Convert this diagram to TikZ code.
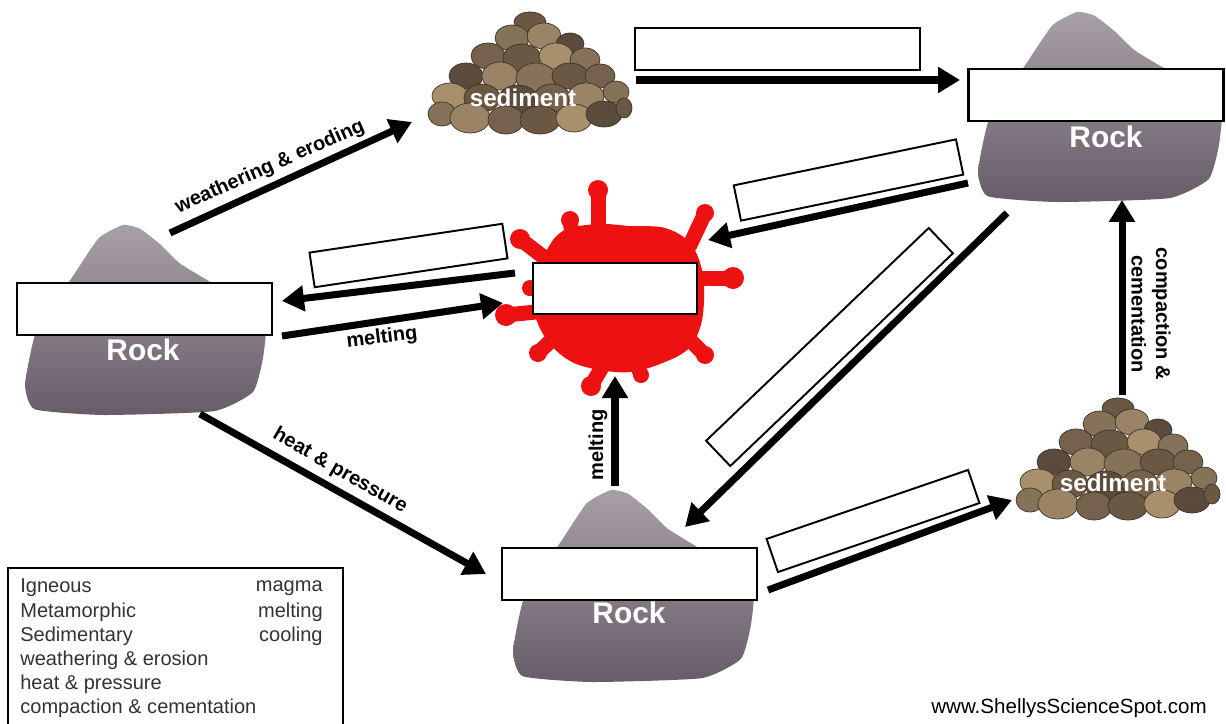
\documentclass[tikz,border=0pt]{standalone}
\usepackage{fontspec}
\setmainfont{Liberation Sans}
\usetikzlibrary{arrows.meta}
\definecolor{rockL}{HTML}{A8A0A7}
\definecolor{rockM}{HTML}{898089}
\definecolor{rockD}{HTML}{675C68}
\definecolor{magred}{HTML}{EE1111}
\definecolor{pA}{HTML}{6B5843}
\definecolor{pB}{HTML}{857258}
\definecolor{pC}{HTML}{5A4B3C}
\definecolor{pD}{HTML}{9A8466}
\definecolor{pE}{HTML}{76624C}
\definecolor{pF}{HTML}{A8906D}
\definecolor{pOut}{HTML}{3E3328}
\definecolor{legcol}{HTML}{333333}

\newcommand\rockshape[4]{%
  \begin{scope}[shift={(#1,#2)}, xscale=#3, yscale=#4]
    \shade[top color=rockL, middle color=rockM, bottom color=rockD]
      plot[smooth cycle, tension=0.3] coordinates {
        (0.40,0) (0.47,0.02) (0.55,0.10) (0.63,0.20) (0.73,0.28) (0.86,0.38)
        (0.98,0.52) (0.97,0.71) (0.93,0.88) (0.77,0.98) (0.32,1.0) (0.04,0.97)
        (0.0,0.84) (0.04,0.58) (0.11,0.42) (0.19,0.28) (0.30,0.07)};
  \end{scope}}

\newcommand\pebblepile[2]{%
  \begin{scope}[shift={(#1,#2)}]
    \foreach \ppx/\ppy/\prx/\pry/\pcol in {
      100/8/16/10/pA,
      82/24/17/13/pB, 114/22/17/13/pD, 140/30/14/11/pC,
      58/42/17/13/pE, 92/44/19/14/pA, 126/42/17/13/pF, 155/46/15/12/pB,
      36/62/17/13/pC, 70/62/18/14/pD, 106/64/20/15/pB, 140/62/18/13/pA, 170/62/15/12/pE,
      20/82/18/13/pF, 52/84/18/14/pA, 88/86/20/15/pC, 122/84/18/14/pE, 156/82/18/13/pD, 186/78/13/11/pB,
      12/100/14/12/pB, 40/104/20/15/pD, 76/106/18/14/pE, 110/106/20/14/pA, 144/104/18/14/pF, 174/100/18/13/pC, 194/94/8/10/pA}
      {\filldraw[fill=\pcol, draw=pOut, line width=0.4pt] (\ppx,\ppy) ellipse [x radius=\prx, y radius=\pry];}
  \end{scope}}

\begin{document}
\begin{tikzpicture}[x=0.02cm,y=-0.02cm,
  blank/.style={draw=black, fill=white, line width=1.6pt, inner sep=0pt},
  tblank/.style={draw=black, fill=white, line width=1.1pt, inner sep=0pt},
  arr/.style={line width=4pt, -{Triangle[length=0.44cm,width=0.5cm]}},
  lbl/.style={font=\bfseries\fontsize{11.4}{14}\selectfont, inner sep=0pt},
  rocktxt/.style={text=white, font=\bfseries\fontsize{17}{20}\selectfont, inner sep=0pt},
  sedtxt/.style={text=white, font=\bfseries\fontsize{13.8}{16}\selectfont, inner sep=0pt},
  legtxt/.style={text=legcol, font=\fontsize{11.4}{13.7}\selectfont, inner sep=0pt},
  tendril/.style={draw=magred, line width=0.3cm, line cap=round}
]
\useasboundingbox (0,0) rectangle (1226,723);
\fill[white] (0,0) rectangle (1226,723);

% rocks and sediment piles
\rockshape{25}{225}{245}{190}
\rockshape{978}{12}{248}{190}
\rockshape{513}{490}{245}{192}
\pebblepile{430}{14}
\pebblepile{1018}{400}

% magma splat
\fill[magred] plot[smooth cycle, tension=0.6] coordinates {
  (548,248) (565,230) (598,224) (630,226) (665,228) (690,243) (702,270)
  (704,300) (700,328) (687,350) (660,364) (630,372) (600,370) (572,362)
  (550,344) (536,318) (533,285)};
\foreach \ax/\ay/\bx/\by/\br in {
  598/230/598/190/10, 550/262/520/239/10, 572/235/570/220/9, 690/245/705/213/9,
  697/278/733/278/11, 536/312/506/315/11, 540/288/530/288/8, 557/335/538/353/9,
  605/362/591/386/10, 637/365/641/375/8, 685/335/705/355/9}
  {\draw[tendril] (\ax,\ay) -- (\bx,\by);
   \fill[magred] (\bx,\by) circle [radius=\br];}

% blank boxes
\node[blank, minimum width=5.1cm, minimum height=1.04cm] (bL) at (144.5,309) {};
\node[blank, minimum width=5.7cm, minimum height=0.84cm] (bTop) at (777.5,49) {};
\node[blank, minimum width=5.1cm, minimum height=1.04cm] (bTR) at (1096,95) {};
\node[blank, minimum width=3.28cm, minimum height=1.02cm] (bMag) at (615,288.5) {};
\node[blank, minimum width=5.1cm, minimum height=1.04cm] (bB) at (629.5,574) {};
\node[tblank, minimum width=3.9cm, minimum height=0.7cm, rotate=8.5] (bML) at (408.5,255.5) {};
\node[tblank, minimum width=4.54cm, minimum height=0.72cm, rotate=11.7] (bTRm) at (848.5,180) {};
\node[tblank, minimum width=6.16cm, minimum height=0.7cm, rotate=43.7] (bDiag) at (829.5,347) {};
\node[tblank, minimum width=4.26cm, minimum height=0.7cm, rotate=18.9] (bBR) at (873,521) {};

% rock / sediment labels
\node[rocktxt] (tL) at (143,350) {Rock};
\node[rocktxt] (tTR) at (1106,137) {Rock};
\node[rocktxt] (tB) at (629,613) {Rock};
\node[sedtxt] (sTop) at (523,98) {sediment};
\node[sedtxt] (sBR) at (1113,483) {sediment};

% arrow end points
\coordinate (w1) at (170,233);  \coordinate (w2) at (412,122);
\coordinate (mL1) at (515,273); \coordinate (mL2) at (282,301);
\coordinate (mR1) at (282,336); \coordinate (mR2) at (503,303);
\coordinate (h1) at (200,414);  \coordinate (h2) at (486,574);
\coordinate (u1) at (615,486);  \coordinate (u2) at (615,376);
\coordinate (t1) at (636,80);   \coordinate (t2) at (960,80);
\coordinate (r1) at (968,183);  \coordinate (r2) at (708,240);
\coordinate (d1) at (1007,213); \coordinate (d2) at (685,527);
\coordinate (s1) at (768,590);  \coordinate (s2) at (1012,500);
\coordinate (c1) at (1122,395); \coordinate (c2) at (1122,200);

\draw[arr] (w1) -- (w2);
\draw[arr] (mL1) -- (mL2);
\draw[arr] (mR1) -- (mR2);
\draw[arr] (h1) -- (h2);
\draw[arr] (u1) -- (u2);
\draw[arr] (t1) -- (t2);
\draw[arr] (r1) -- (r2);
\draw[arr] (d1) -- (d2);
\draw[arr] (s1) -- (s2);
\draw[arr] (c1) -- (c2);

% arrow labels
\node[lbl, rotate=24] (lw) at (270,167) {weathering \& eroding};
\node[lbl, rotate=7] (lm) at (382,338) {melting};
\node[lbl, rotate=-30] (lh) at (340,471) {heat \& pressure};
\node[lbl, rotate=90] (lu) at (598,445) {melting};
\node[lbl, rotate=-90, align=center] (lc) at (1151,314) {compaction \&\\cementation};

% legend
\draw[line width=1.3pt] (8,730) -- (8,568) -- (343,568) -- (343,730);
\node[legtxt, anchor=west] (g1) at (20,588) {Igneous};
\node[legtxt, anchor=west] (g2) at (20,612) {Metamorphic};
\node[legtxt, anchor=west] (g3) at (20,636) {Sedimentary};
\node[legtxt, anchor=west] (g4) at (20,660) {weathering \& erosion};
\node[legtxt, anchor=west] (g5) at (20,684) {heat \& pressure};
\node[legtxt, anchor=west] (g6) at (20,708) {compaction \& cementation};
\node[legtxt, anchor=east] (g7) at (323,588) {magma};
\node[legtxt, anchor=east] (g8) at (323,612) {melting};
\node[legtxt, anchor=east] (g9) at (323,636) {cooling};

\node[legtxt, text=black, font=\fontsize{11.7}{14}\selectfont] (web) at (1069,708) {www.ShellysScienceSpot.com};
\end{tikzpicture}
\end{document}
